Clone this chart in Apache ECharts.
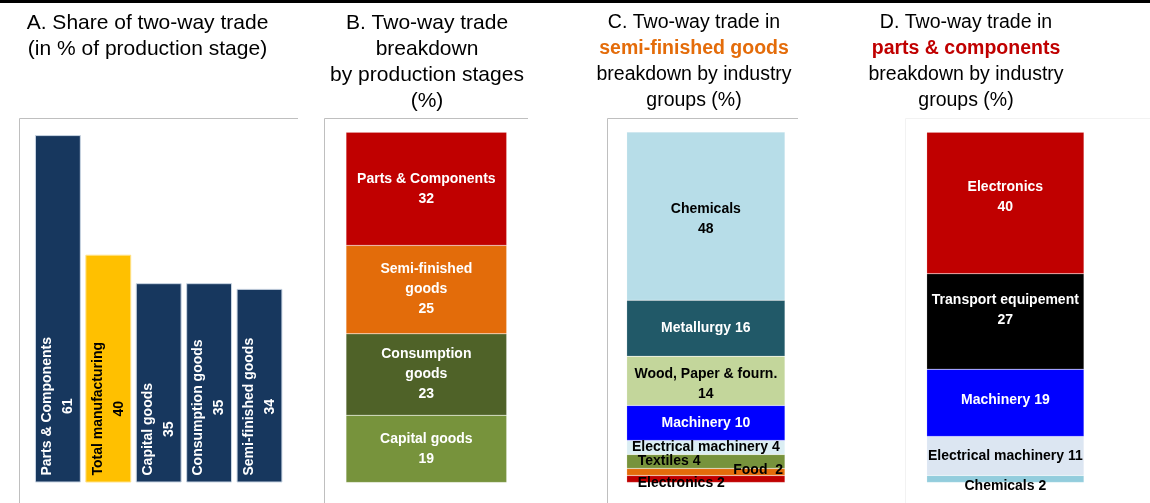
<!DOCTYPE html>
<html>
<head>
<meta charset="utf-8">
<script src="https://cdn.jsdelivr.net/npm/echarts@6/dist/echarts.min.js"></script>
<style>
html, body { margin: 0; padding: 0; background: #fff; }
#chart { width: 1150px; height: 503px; }
</style>
</head>
<body>
<div id="chart"></div>
<script>
// A. share of two-way trade, % of each production stage
var stageNames = ['Parts & Components', 'Total manufacturing', 'Capital goods', 'Consumption goods', 'Semi-finished goods'];
var stageTwoWayShare = [61, 40, 35, 35, 34];

// B. two-way trade by production stage (bottom to top)
var breakdownStages = ['Capital goods', 'Consumption goods', 'Semi-finished goods', 'Parts & Components'];
var breakdownShares = [19, 23, 25, 32];

// C. semi-finished goods by industry (bottom to top)
var semiIndustries = ['Electronics', 'Food', 'Textiles', 'Electrical machinery', 'Machinery', 'Wood, Paper & fourn.', 'Metallurgy', 'Chemicals'];
var semiShares = [2, 2, 4, 4, 10, 14, 16, 48];

// D. parts & components by industry (bottom to top)
var partsIndustries = ['Chemicals', 'Electrical machinery', 'Machinery', 'Transport equipement', 'Electronics'];
var partsShares = [2, 11, 19, 27, 40];

var FONT = '"Liberation Sans", Arial, sans-serif';
var NAVY = '#17375E', YELLOW = '#FFC000';

// colours / label look for the stacked panels
var stageStyles = {
    'Capital goods':       { color: '#77933C', text: '#fff', label: 'Capital goods' },
    'Consumption goods':   { color: '#4F6228', text: '#fff', label: 'Consumption\ngoods' },
    'Semi-finished goods': { color: '#E36C0A', text: '#fff', label: 'Semi-finished\ngoods' },
    'Parts & Components':  { color: '#C00000', text: '#fff' }
};
var semiStyles = {
    'Electronics':          { color: '#C00000', text: '#000', sep: ' ', pos: 'insideLeft', offset: [6, 4] },
    'Food':                 { color: '#E46C0A', text: '#000', sep: '  ', pos: 'insideRight', distance: 2, offset: [0, -2] },
    'Textiles':             { color: '#77933C', text: '#000', sep: ' ', pos: 'insideLeft', distance: 11 },
    'Electrical machinery': { color: '#DBEEF3', text: '#000', sep: ' ' },
    'Machinery':            { color: '#0000FF', text: '#fff', sep: ' ' },
    'Wood, Paper & fourn.': { color: '#C3D69B', text: '#000', offset: [0, 3] },
    'Metallurgy':           { color: '#215968', text: '#fff', sep: ' ' },
    'Chemicals':            { color: '#B7DDE8', text: '#000', offset: [0, 3] }
};
var partsStyles = {
    'Chemicals':            { color: '#93CDDD', text: '#000', sep: ' ', offset: [0, 7] },
    'Electrical machinery': { color: '#DCE6F2', text: '#000', sep: ' ' },
    'Machinery':            { color: '#0000FF', text: '#fff', sep: ' ', offset: [0, -3] },
    'Transport equipement': { color: '#000000', text: '#fff', offset: [0, -11] },
    'Electronics':          { color: '#C00000', text: '#fff', offset: [0, -6] }
};

var GRID_TOP = 118, GRID_H = 364.5;
var grids = [
    { left: 32.7, width: 252, top: GRID_TOP, height: GRID_H },
    { left: 346, width: 160.7, top: GRID_TOP, height: GRID_H },
    { left: 626.7, width: 158.3, top: GRID_TOP, height: GRID_H },
    { left: 926.7, width: 157.3, top: GRID_TOP, height: GRID_H }
];
var yMax = [64, 103, 104, 103];

var xAxes = grids.map(function (g, i) {
    return { gridIndex: i, type: 'category', show: false,
             data: i === 0 ? stageNames : ['all'] };
});
var yAxes = grids.map(function (g, i) {
    return { gridIndex: i, type: 'value', show: false, min: 0, max: yMax[i],
             splitLine: { show: false } };
});

function stackSeries(names, values, styles, idx) {
    return names.map(function (n, i) {
        var s = styles[n];
        return {
            type: 'bar', name: n, xAxisIndex: idx, yAxisIndex: idx,
            stack: 'p' + idx, barWidth: '100%', silent: true,
            data: [values[i]],
            itemStyle: { color: s.color, borderColor: 'rgba(255,255,255,0.35)', borderWidth: 0.5 },
            label: {
                show: true,
                position: s.pos || 'inside',
                distance: s.distance != null ? s.distance : 5,
                offset: s.offset || [0, 0],
                color: s.text,
                fontFamily: FONT, fontWeight: 'bold', fontSize: 14, lineHeight: 20,
                formatter: (s.label || n) + (s.sep || '\n') + values[i]
            }
        };
    });
}

var panelA = {
    type: 'bar', xAxisIndex: 0, yAxisIndex: 0, barCategoryGap: '9%', silent: true,
    data: stageTwoWayShare.map(function (v, i) {
        var total = stageNames[i] === 'Total manufacturing';
        var txt = total ? '#000' : '#fff';
        return {
            value: v,
            itemStyle: { color: total ? YELLOW : NAVY, borderColor: total ? '#FFE28A' : '#C9D5E3', borderWidth: 1 },
            label: {
                show: true, position: 'insideBottom', rotate: 90, distance: 7,
                align: 'left', verticalAlign: 'middle',
                formatter: '{n|' + stageNames[i] + '}\n{n|' + v + '}',
                rich: { n: { align: 'center', color: txt, fontFamily: FONT, fontWeight: 'bold', fontSize: 14, lineHeight: 21 } }
            }
        };
    })
};

var series = [panelA]
    .concat(stackSeries(breakdownStages, breakdownShares, stageStyles, 1))
    .concat(stackSeries(semiIndustries, semiShares, semiStyles, 2))
    .concat(stackSeries(partsIndustries, partsShares, partsStyles, 3));

function frame(x, right, color) {
    return { type: 'polyline', silent: true,
             shape: { points: [[x, 503], [x, 118.5], [right, 118.5]] },
             style: { stroke: color, lineWidth: 1, fill: null } };
}
function title(cx, text, size, rich) {
    return { type: 'text', x: cx, y: 10, silent: true,
             style: { text: text, align: 'center', textAlign: 'center', verticalAlign: 'top',
                      fontFamily: FONT, fontSize: size, lineHeight: 26, fill: '#000', rich: rich || {} } };
}

var chart = echarts.init(document.getElementById('chart'), null, { renderer: 'canvas' });
chart.setOption({
    animation: false,
    grid: grids,
    xAxis: xAxes,
    yAxis: yAxes,
    series: series,
    graphic: [
        { type: 'line', silent: true, shape: { x1: 0, y1: 1.5, x2: 1150, y2: 1.5 }, style: { stroke: '#000', lineWidth: 3 } },
        frame(19.5, 298, '#BFBFBF'),
        frame(324.5, 528, '#BFBFBF'),
        frame(607.5, 798, '#BFBFBF'),
        frame(905.5, 1150, '#F2F2F2'),
        title(147.5, 'A. Share of two-way trade\n(in % of production stage)', 21),
        title(427, 'B. Two-way trade\nbreakdown\nby production stages\n(%)', 21),
        title(694, 'C. Two-way trade in\n{o|semi-finished goods}\nbreakdown by industry\ngroups (%)', 19.5,
              { o: { fontFamily: FONT, fontWeight: 'bold', fontSize: 19.5, lineHeight: 26, fill: '#E46C0A', color: '#E46C0A' } }),
        title(966, 'D. Two-way trade in\n{r|parts & components}\nbreakdown by industry\ngroups (%)', 19.5,
              { r: { fontFamily: FONT, fontWeight: 'bold', fontSize: 19.5, lineHeight: 26, fill: '#C00000', color: '#C00000' } })
    ]
});
</script>
</body>
</html>
